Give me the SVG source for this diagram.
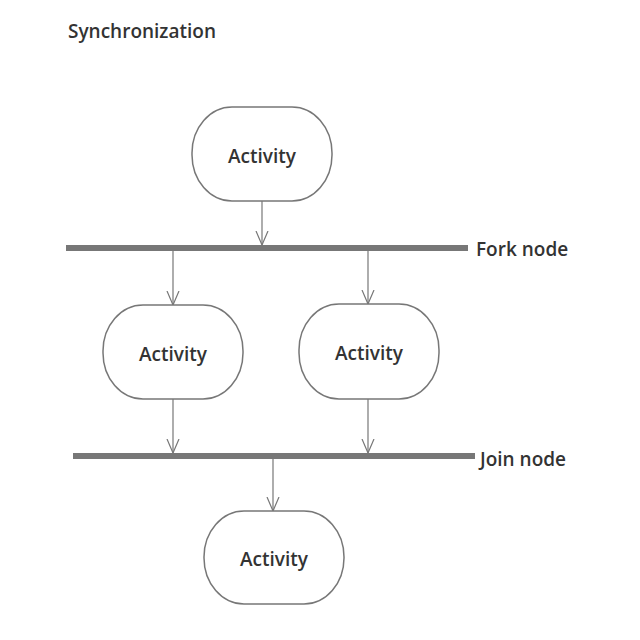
<svg xmlns="http://www.w3.org/2000/svg" width="640" height="640" viewBox="0 0 640 640">
<defs>
<marker id="arr" markerWidth="16" markerHeight="16" refX="14" refY="8" orient="auto" markerUnits="userSpaceOnUse">
<path d="M0,2 L14,8 L0,14" fill="none" stroke="#777" stroke-width="1.2"/>
</marker>
</defs>
<style>
.act{fill:#fff;stroke:#777;stroke-width:1.5}
.lbl{font-family:"Open Sans","Noto Sans",sans-serif;font-size:19px;font-weight:600;fill:#333}
.bar{fill:#777}
.conn{stroke:#777;stroke-width:1.2;fill:none}
</style>
<rect width="640" height="640" fill="#fff"/>
<text class="lbl" x="68" y="38" font-size="18">Synchronization</text>
<g id="connectors">
<line class="conn" x1="262" y1="201" x2="262" y2="245" marker-end="url(#arr)"/>
<line class="conn" x1="173" y1="251" x2="173" y2="305" marker-end="url(#arr)"/>
<line class="conn" x1="368" y1="251" x2="368" y2="304" marker-end="url(#arr)"/>
<line class="conn" x1="173" y1="399" x2="173" y2="453" marker-end="url(#arr)"/>
<line class="conn" x1="368" y1="399" x2="368" y2="453" marker-end="url(#arr)"/>
<line class="conn" x1="273" y1="459" x2="273" y2="511" marker-end="url(#arr)"/>
</g>
<g id="activity1"><rect class="act" x="192" y="107" width="140" height="94" rx="40" ry="46"/><text class="lbl" x="262" y="163" text-anchor="middle">Activity</text></g>
<g id="fork"><rect class="bar" x="66" y="245" width="402" height="6"/><text class="lbl" x="476" y="256">Fork node</text></g>
<g id="activity2"><rect class="act" x="103" y="305" width="140" height="94" rx="40" ry="46"/><text class="lbl" x="173" y="361" text-anchor="middle">Activity</text></g>
<g id="activity3"><rect class="act" x="299" y="304" width="140" height="95" rx="40" ry="46"/><text class="lbl" x="369" y="360" text-anchor="middle">Activity</text></g>
<g id="join"><rect class="bar" x="73" y="453" width="402" height="6"/><text class="lbl" x="480" y="466">Join node</text></g>
<g id="activity4"><rect class="act" x="204" y="511" width="140" height="93" rx="40" ry="46"/><text class="lbl" x="274" y="566" text-anchor="middle">Activity</text></g>
</svg>
